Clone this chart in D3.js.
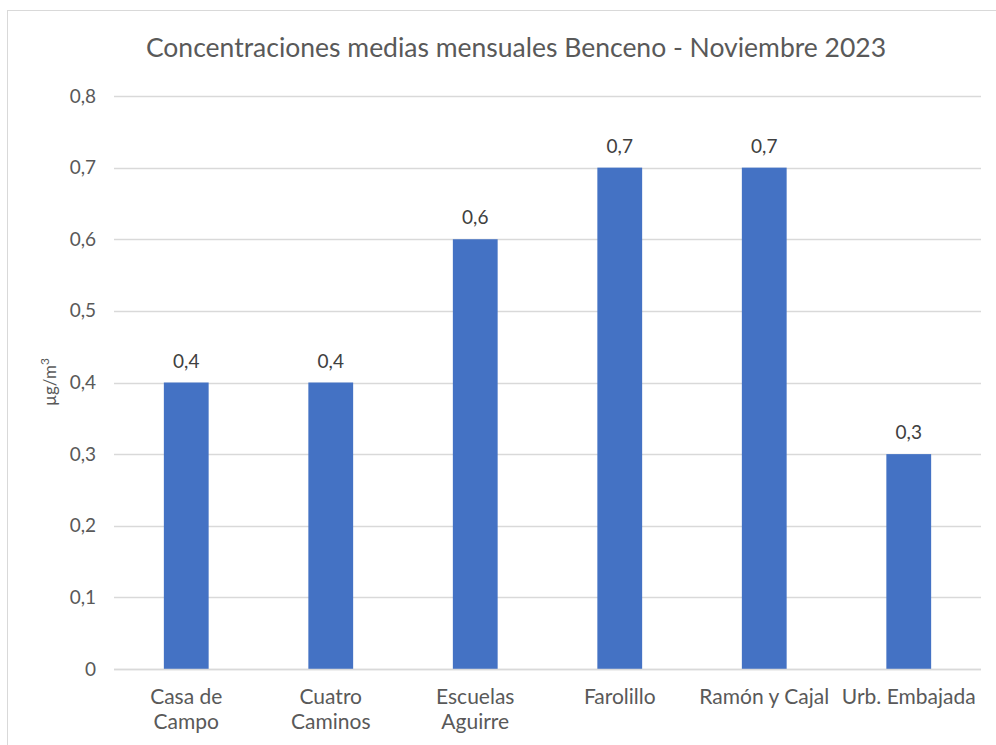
<!DOCTYPE html>
<html>
<head>
<meta charset="utf-8">
<script src="https://cdn.jsdelivr.net/npm/d3@7"></script>
<style>
  body { margin: 0; background: #fff; }
  text { font-family: Lato, "Open Sans", sans-serif; }
</style>
</head>
<body>
<div class="chart"></div>
<script>
var svgWidth = 996;
var svgHeight = 745;

var margin = { top: 96, right: 15, bottom: 76, left: 114 };
var width = svgWidth - margin.left - margin.right;
var height = svgHeight - margin.top - margin.bottom;

// data
var stations = [["Casa de", "Campo"], ["Cuatro", "Caminos"], ["Escuelas", "Aguirre"], ["Farolillo"], ["Ramón y Cajal"], ["Urb. Embajada"]];
var values = [0.4, 0.4, 0.6, 0.7, 0.7, 0.3];
var yTicks = [0, 0.1, 0.2, 0.3, 0.4, 0.5, 0.6, 0.7, 0.8];

var fmt = function(d) { return d3.format(".1~f")(d).replace(".", ","); };

var svg = d3.select(".chart")
  .append("svg")
  .attr("width", svgWidth)
  .attr("height", svgHeight);

// chart frame (runs off the right and bottom edges)
svg.append("rect")
  .attr("x", 7.5)
  .attr("y", 10.5)
  .attr("width", svgWidth + 20)
  .attr("height", svgHeight + 20)
  .attr("fill", "none")
  .attr("stroke", "#d9d9d9")
  .attr("stroke-width", 1);

svg.append("text")
  .attr("x", 516)
  .attr("y", 57)
  .attr("text-anchor", "middle")
  .style("font-size", "26.5px")
  .style("fill", "#595959")
  .text("Concentraciones medias mensuales Benceno - Noviembre 2023");

var chart = svg.append("g")
  .attr("transform", "translate(" + margin.left + "," + margin.top + ")");

var xScale = d3.scaleBand()
  .domain(d3.range(stations.length))
  .range([0, width])
  .paddingInner(0.69)
  .paddingOuter(0.345);

var yScale = d3.scaleLinear()
  .domain([0, 0.8])
  .range([height, 0]);

// gridlines
chart.selectAll(".grid")
  .data(yTicks)
  .enter().append("line")
    .attr("x1", 0)
    .attr("x2", width)
    .attr("y1", function(d) { return Math.round(yScale(d)) + 0.5; })
    .attr("y2", function(d) { return Math.round(yScale(d)) + 0.5; })
    .attr("stroke", "#d9d9d9")
    .attr("stroke-width", 1.5);

// y tick labels
var leftAxis = d3.axisLeft(yScale).tickValues(yTicks).tickFormat(fmt).tickSize(0).tickPadding(18);
var yAxis = chart.append("g").call(leftAxis);
yAxis.select(".domain").remove();
yAxis.selectAll("text")
  .style("font-family", "Lato, sans-serif")
  .style("font-size", "19px")
  .style("fill", "#595959");

// bars
chart.selectAll("rect.bar")
  .data(values)
  .enter().append("rect")
    .attr("class", "bar")
    .attr("x", function(d, i) { return xScale(i); })
    .attr("y", function(d) { return yScale(d); })
    .attr("width", xScale.bandwidth())
    .attr("height", function(d) { return height - yScale(d); })
    .attr("fill", "#4472c4");

// value labels
chart.selectAll("text.val")
  .data(values)
  .enter().append("text")
    .attr("class", "val")
    .attr("x", function(d, i) { return xScale(i) + xScale.bandwidth() / 2; })
    .attr("y", function(d) { return yScale(d) - 15; })
    .attr("text-anchor", "middle")
    .style("font-size", "19px")
    .style("fill", "#404040")
    .text(fmt);

// axis line
chart.append("line")
  .attr("x1", 0)
  .attr("x2", width)
  .attr("y1", height + 0.5)
  .attr("y2", height + 0.5)
  .attr("stroke", "#d9d9d9")
  .attr("stroke-width", 1.5);

// category labels
var cats = chart.selectAll("text.cat")
  .data(stations)
  .enter().append("text")
    .attr("class", "cat")
    .attr("text-anchor", "middle")
    .attr("transform", function(d, i) {
      return "translate(" + (xScale(i) + xScale.bandwidth() / 2) + "," + (height + 35) + ")";
    })
    .style("font-size", "21px")
    .style("fill", "#595959");

cats.selectAll("tspan")
  .data(function(d) { return d; })
  .enter().append("tspan")
    .attr("x", 0)
    .attr("dy", function(d, i) { return i === 0 ? 0 : 25; })
    .text(function(d) { return d; });

// y axis title
var yTitle = svg.append("text")
  .attr("transform", "translate(56,382) rotate(-90)")
  .attr("text-anchor", "middle")
  .style("font-size", "17px")
  .style("fill", "#595959");
yTitle.append("tspan").text("µg/m");
yTitle.append("tspan").attr("dy", -7).style("font-size", "12px").text("3");
</script>
</body>
</html>
